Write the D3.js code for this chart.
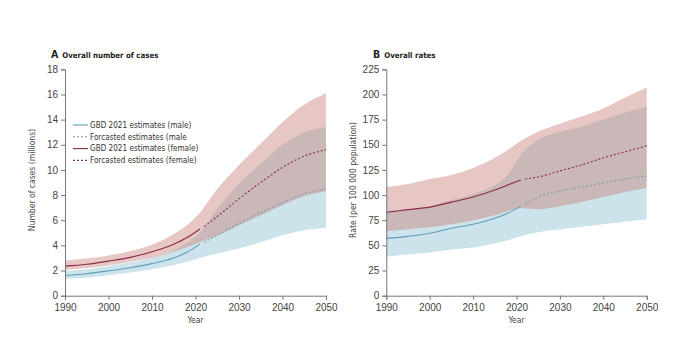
<!DOCTYPE html>
<html>
<meta charset="UTF-8">
    <head>
        <script src="https://d3js.org/d3.v7.min.js"></script>
        <style>
            body {
                margin: 0;
                background: white;
                font-family: "Liberation Sans Narrow", "DejaVu Sans Condensed", "Liberation Sans", sans-serif;
            }
        </style>
    </head>
    <body>
    </body>
    <script>
        // years of the estimates, the forecasts and the uncertainty bands
        let yearsEst = [1990, 1995, 2000, 2005, 2010, 2015, 2018, 2021];
        let yearsFc = [2022, 2025, 2030, 2035, 2040, 2045, 2050];
        let bandYears = [1990, 1995, 2000, 2005, 2010, 2015, 2018, 2021, 2025, 2030, 2035, 2040, 2045, 2050];
        let xTicks = [1990, 2000, 2010, 2020, 2030, 2040, 2050];

        // panel A: number of cases (millions)
        let maleEstA = [1.6, 1.75, 1.97, 2.22, 2.55, 3.0, 3.45, 4.1];
        let femaleEstA = [2.35, 2.5, 2.75, 3.05, 3.5, 4.1, 4.6, 5.3];
        let maleFcA = [4.25, 4.8, 5.75, 6.6, 7.4, 8.1, 8.5];
        let femaleFcA = [5.5, 6.3, 7.7, 9.0, 10.2, 11.1, 11.6];
        let maleLoA = [1.35, 1.45, 1.62, 1.85, 2.1, 2.45, 2.7, 3.0, 3.35, 3.75, 4.25, 4.8, 5.2, 5.4];
        let maleHiA = [1.95, 2.1, 2.35, 2.65, 3.0, 3.6, 4.2, 5.0, 6.9, 8.9, 10.5, 12.0, 13.0, 13.4];
        let femaleLoA = [2.05, 2.2, 2.4, 2.7, 3.0, 3.5, 3.85, 4.25, 4.8, 5.6, 6.4, 7.2, 7.9, 8.3];
        let femaleHiA = [2.8, 2.95, 3.2, 3.55, 4.05, 4.9, 5.6, 6.6, 8.5, 10.4, 12.1, 13.8, 15.2, 16.1];
        let yTicksA = [0, 2, 4, 6, 8, 10, 12, 14, 16, 18];

        // panel B: rate per 100 000 population
        let maleEstB = [57, 59, 62, 67, 71, 77, 82, 89];
        let femaleEstB = [83, 85.5, 88, 93, 98, 105, 110, 115];
        let maleFcB = [91, 98, 104, 108, 112, 116, 119];
        let femaleFcB = [116, 118, 124, 130, 137, 143, 149];
        let maleLoB = [39, 41, 43, 46, 48, 52, 55, 59, 63, 66, 68.5, 71, 73.5, 76];
        let maleHiB = [84, 86, 89, 95, 101, 110, 120, 140, 155, 163, 168, 175, 182, 188];
        let femaleLoB = [64, 66, 68, 71, 75, 80, 84, 87, 86, 89, 93, 98, 103, 107];
        let femaleHiB = [108, 111, 116, 120, 127, 137, 145, 154, 163, 171, 178, 186, 197, 207];
        let yTicksB = [0, 25, 50, 75, 100, 125, 150, 175, 200, 225];

        let legendLabels = [
            "GBD 2021 estimates (male)",
            "Forcasted estimates (male",
            "GBD 2021 estimates (female)",
            "Forcasted estimates (female)"
        ];

        let maleColor = "#5b9fba";
        let maleFcColor = "#7d9aab";
        let femaleColor = "#8a2c43";
        let blueBand = "#cde3ec";
        let pinkBand = "#c8827d";

        let svg = d3.select("body").append("svg")
            .attr("width", 680)
            .attr("height", 342);

        function drawPanel(p){
            let x = d3.scaleLinear().domain([1990, 2050]).range([p.x0, p.x1]);
            let y = d3.scaleLinear().domain([0, p.yMax]).range([295.7, 69.3]);
            let g = svg.append("g");

            let band = (lo, hi) => d3.area()
                .x((d, i) => x(bandYears[i]))
                .y0((d, i) => y(lo[i]))
                .y1((d, i) => y(hi[i]))
                .curve(d3.curveMonotoneX)(bandYears);

            // male band first, female band on top, semi transparent
            g.append("path").attr("d", band(p.maleLo, p.maleHi)).attr("fill", blueBand);
            g.append("path").attr("d", band(p.femaleLo, p.femaleHi))
                .attr("fill", pinkBand).attr("fill-opacity", 0.45);

            let line = (years, vals) => d3.line()
                .x((d, i) => x(years[i]))
                .y((d, i) => y(vals[i]))
                .curve(d3.curveMonotoneX)(years);

            g.append("path").attr("d", line(yearsEst, p.maleEst))
                .attr("fill", "none").attr("stroke", maleColor).attr("stroke-width", 1.1);
            g.append("path").attr("d", line(yearsFc, p.maleFc))
                .attr("fill", "none").attr("stroke", maleFcColor).attr("stroke-width", 1.1)
                .attr("stroke-dasharray", "2,2");
            g.append("path").attr("d", line(yearsEst, p.femaleEst))
                .attr("fill", "none").attr("stroke", femaleColor).attr("stroke-width", 1.1);
            g.append("path").attr("d", line(yearsFc, p.femaleFc))
                .attr("fill", "none").attr("stroke", femaleColor).attr("stroke-width", 1.1)
                .attr("stroke-dasharray", "2,2");

            // axes
            let xAxis = g.append("g")
                .attr("transform", "translate(0,295.7)")
                .call(d3.axisBottom(x).tickValues(xTicks).tickFormat(d3.format("d")).tickSizeOuter(0).tickSize(4));
            let yAxis = g.append("g")
                .attr("transform", `translate(${p.x0},0)`)
                .call(d3.axisLeft(y).tickValues(p.yTicks).tickSizeOuter(0).tickSize(4));
            for (let ax of [xAxis, yAxis]){
                ax.select(".domain").attr("stroke", "#777");
                ax.selectAll(".tick line").attr("stroke", "#777");
                ax.selectAll(".tick text").attr("fill", "#444").attr("font-size", "10px")
                    .attr("font-family", "inherit");
            }
            xAxis.selectAll(".tick text").attr("dy", "0.85em");

            g.append("text")
                .attr("x", (p.x0 + p.x1) / 2)
                .attr("y", 323)
                .attr("text-anchor", "middle")
                .attr("font-size", "8.5px")
                .attr("fill", "#444")
                .text("Year");

            g.append("text")
                .attr("transform", `translate(${p.yLabelX},180) rotate(-90)`)
                .attr("text-anchor", "middle")
                .attr("font-size", "8.5px")
                .attr("fill", "#444")
                .text(p.yLabel);

            // panel title
            let t = g.append("text").attr("x", p.titleX).attr("y", 58).attr("fill", "#222");
            t.append("tspan").attr("font-weight", "bold").attr("font-size", "10.5px").text(p.letter);
            t.append("tspan").attr("dx", 4).attr("font-weight", "bold").attr("font-size", "7.8px").text(p.title);
        }

        drawPanel({
            x0: 65, x1: 326, yMax: 18, yTicks: yTicksA,
            maleEst: maleEstA, femaleEst: femaleEstA, maleFc: maleFcA, femaleFc: femaleFcA,
            maleLo: maleLoA, maleHi: maleHiA, femaleLo: femaleLoA, femaleHi: femaleHiA,
            yLabel: "Number of cases (millions)", yLabelX: 35,
            letter: "A", title: "Overall number of cases", titleX: 51
        });

        drawPanel({
            x0: 386.3, x1: 646.7, yMax: 225, yTicks: yTicksB,
            maleEst: maleEstB, femaleEst: femaleEstB, maleFc: maleFcB, femaleFc: femaleFcB,
            maleLo: maleLoB, maleHi: maleHiB, femaleLo: femaleLoB, femaleHi: femaleHiB,
            yLabel: "Rate (per 100 000 population)", yLabelX: 356,
            letter: "B", title: "Overall rates", titleX: 373
        });

        // legend in panel A
        let legend = svg.append("g").attr("transform", "translate(73,125)");
        let legendStyles = [
            {color: maleColor, dash: null},
            {color: maleFcColor, dash: "2,2"},
            {color: femaleColor, dash: null},
            {color: femaleColor, dash: "2,2"}
        ];
        legendLabels.forEach((label, i) => {
            let row = legend.append("g").attr("transform", `translate(0,${i * 11.8})`);
            row.append("line")
                .attr("x1", 0).attr("x2", 15).attr("y1", 0).attr("y2", 0)
                .attr("stroke", legendStyles[i].color)
                .attr("stroke-width", 1.1)
                .attr("stroke-dasharray", legendStyles[i].dash);
            row.append("text")
                .attr("x", 17).attr("y", 0).attr("dy", "0.35em")
                .attr("font-size", "8.1px").attr("fill", "#333")
                .text(label);
        });
    </script>
</html>
